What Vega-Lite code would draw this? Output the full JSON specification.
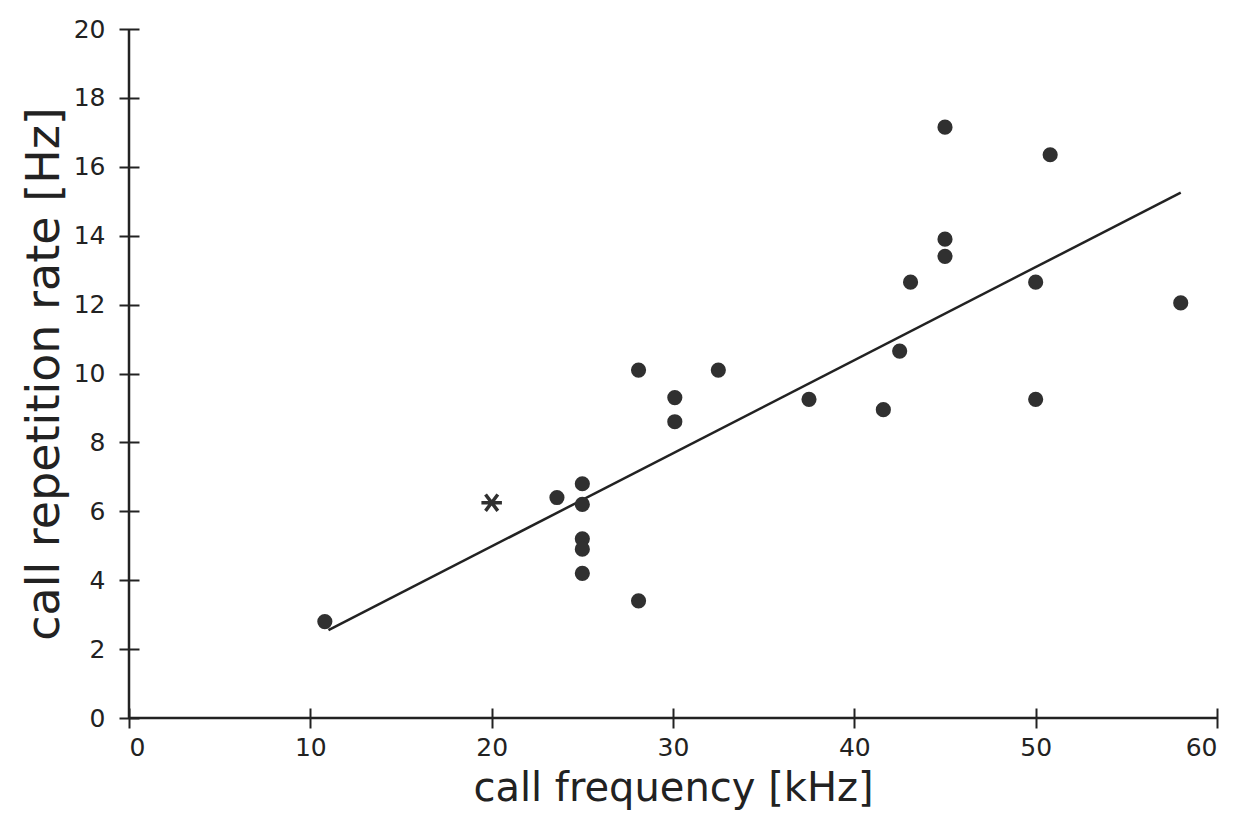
{
  "$schema": "https://vega.github.io/schema/vega-lite/v6.json",
  "width": 1088,
  "height": 689,
  "autosize": "none",
  "padding": {"left": 129, "top": 29, "right": 19, "bottom": 100},
  "background": "white",
  "config": {
    "view": {"stroke": null},
    "font": "DejaVu Sans",
    "axis": {
      "grid": false,
      "domain": false,
      "tickColor": "#222",
      "tickWidth": 2,
      "tickSize": 20,
      "offset": -10,
      "labelColor": "#222",
      "titleColor": "#222",
      "labelFont": "DejaVu Sans",
      "titleFont": "DejaVu Sans",
      "labelFontSize": 25,
      "titleFontWeight": "normal"
    }
  },
  "datasets": {
    "points": [
      {"freq": 10.8, "rate": 2.8},
      {"freq": 23.6, "rate": 6.4},
      {"freq": 25.0, "rate": 6.8},
      {"freq": 25.0, "rate": 6.2},
      {"freq": 25.0, "rate": 5.2},
      {"freq": 25.0, "rate": 4.9},
      {"freq": 25.0, "rate": 4.2},
      {"freq": 28.1, "rate": 3.4},
      {"freq": 28.1, "rate": 10.1},
      {"freq": 30.1, "rate": 9.3},
      {"freq": 30.1, "rate": 8.6},
      {"freq": 32.5, "rate": 10.1},
      {"freq": 37.5, "rate": 9.25},
      {"freq": 41.6, "rate": 8.95},
      {"freq": 42.5, "rate": 10.65},
      {"freq": 43.1, "rate": 12.65},
      {"freq": 45.0, "rate": 17.15},
      {"freq": 45.0, "rate": 13.9},
      {"freq": 45.0, "rate": 13.4},
      {"freq": 50.0, "rate": 12.65},
      {"freq": 50.0, "rate": 9.25},
      {"freq": 50.8, "rate": 16.35},
      {"freq": 58.0, "rate": 12.05}
    ],
    "star": [
      {"freq": 20.0, "rate": 6.25}
    ],
    "fit": [
      {"freq": 11.0, "rate": 2.55},
      {"freq": 58.0, "rate": 15.25}
    ]
  },
  "layer": [
    {
      "data": {"name": "fit"},
      "mark": {"type": "line", "color": "#222", "strokeWidth": 2.5},
      "encoding": {
        "x": {
          "field": "freq", "type": "quantitative",
          "scale": {"domain": [0, 60], "nice": false, "zero": false},
          "axis": {"values": [0, 10, 20, 30, 40, 50, 60], "title": "call frequency [kHz]", "labelPadding": 7, "titlePadding": 8, "titleFontSize": 40}
        },
        "y": {
          "field": "rate", "type": "quantitative",
          "scale": {"domain": [0, 20], "nice": false, "zero": false},
          "axis": {"values": [0, 2, 4, 6, 8, 10, 12, 14, 16, 18, 20], "title": "call repetition rate [Hz]", "labelPadding": 14, "titlePadding": 5, "titleFontSize": 46}
        }
      }
    },
    {
      "data": {"name": "points"},
      "mark": {"type": "point", "filled": true, "shape": "circle", "size": 230, "color": "#303030", "opacity": 1},
      "encoding": {
        "x": {"field": "freq", "type": "quantitative"},
        "y": {"field": "rate", "type": "quantitative"}
      }
    },
    {
      "data": {"name": "star"},
      "mark": {"type": "point", "filled": false, "shape": "M-1,0L1,0M-0.6,-0.8L0.6,0.8M-0.6,0.8L0.6,-0.8", "size": 420, "color": "#303030", "strokeWidth": 3.5, "opacity": 1},
      "encoding": {
        "x": {"field": "freq", "type": "quantitative"},
        "y": {"field": "rate", "type": "quantitative"}
      }
    },
    {
      "data": {"values": [{}]},
      "mark": {"type": "rule", "color": "#222", "strokeWidth": 2.5},
      "encoding": {"x": {"datum": 0}}
    },
    {
      "data": {"values": [{}]},
      "mark": {"type": "rule", "color": "#222", "strokeWidth": 2.5},
      "encoding": {"y": {"datum": 0}}
    }
  ]
}
